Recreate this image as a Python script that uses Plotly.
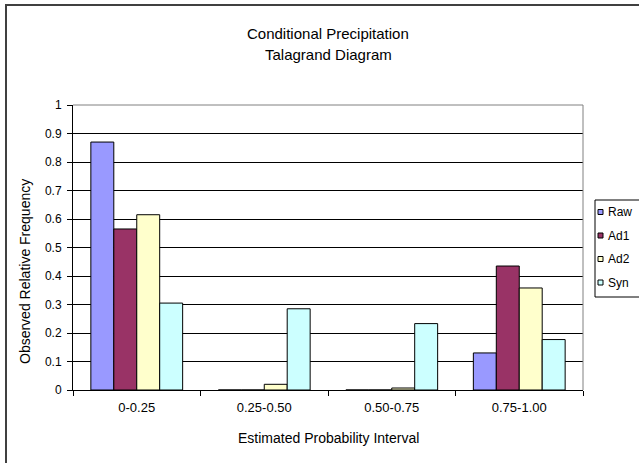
import plotly.graph_objects as go

# Probability intervals (x categories) and observed relative frequencies per ensemble
categories = ["0-0.25", "0.25-0.50", "0.50-0.75", "0.75-1.00"]
series_names = ["Raw", "Ad1", "Ad2", "Syn"]
raw = [0.87, 0.0, 0.0, 0.13]
ad1 = [0.565, 0.0, 0.0, 0.435]
ad2 = [0.615, 0.02, 0.007, 0.358]
syn = [0.305, 0.285, 0.233, 0.177]
series_values = [raw, ad1, ad2, syn]
series_colors = ["#9999FF", "#993366", "#FFFFCC", "#CCFFFF"]

y_ticks = [i / 10 for i in range(11)]
y_tick_labels = ["0", "0.1", "0.2", "0.3", "0.4", "0.5", "0.6", "0.7", "0.8", "0.9", "1"]

FONT = "Liberation Sans"
W, H = 639, 463
ML, MR, MT, MB = 73, 56, 105, 73
PW, PH = W - ML - MR, H - MT - MB


def px_x(p):
    return (p - ML) / PW


def px_y(p):
    return (H - MB - p) / PH


fig = go.Figure()
for name, vals, col in zip(series_names, series_values, series_colors):
    fig.add_trace(go.Bar(
        x=categories, y=vals, name=name,
        marker=dict(color=col, line=dict(color="black", width=1)),
        showlegend=False,
    ))

shapes = []
annotations = []

# outer chart frame
shapes.append(dict(type="rect", xref="paper", yref="paper",
                   x0=px_x(6), x1=px_x(W + 20), y0=px_y(H + 20), y1=px_y(5),
                   line=dict(color="#404040", width=2), fillcolor="rgba(0,0,0,0)", layer="below"))

# plot-area border on top and right
shapes.append(dict(type="line", xref="paper", yref="paper", x0=0, x1=1, y0=1, y1=1,
                   line=dict(color="#808080", width=1)))
shapes.append(dict(type="line", xref="paper", yref="paper", x0=1, x1=1, y0=0, y1=1,
                   line=dict(color="#808080", width=1)))

# legend box with entries
lg_x0, lg_y0, lg_y1 = 595, 200, 297
shapes.append(dict(type="rect", xref="paper", yref="paper",
                   x0=px_x(lg_x0), x1=px_x(W + 10), y0=px_y(lg_y1), y1=px_y(lg_y0),
                   line=dict(color="black", width=1), fillcolor="white"))
for i, (name, col) in enumerate(zip(series_names, series_colors)):
    cy = 212 + i * 23.5
    shapes.append(dict(type="rect", xref="paper", yref="paper",
                       x0=px_x(lg_x0 + 3), x1=px_x(lg_x0 + 8),
                       y0=px_y(cy + 2.5), y1=px_y(cy - 2.5),
                       line=dict(color="black", width=1), fillcolor=col))
    annotations.append(dict(text=name, xref="paper", yref="paper",
                            x=px_x(lg_x0 + 11), y=px_y(cy), xanchor="left", yanchor="middle",
                            showarrow=False, font=dict(family=FONT, size=12, color="black")))

# chart title, two lines
annotations.append(dict(text="Conditional Precipitation", xref="paper", yref="paper",
                        x=px_x(328), y=px_y(33), xanchor="center", yanchor="middle",
                        showarrow=False, font=dict(family=FONT, size=15, color="black")))
annotations.append(dict(text="Talagrand Diagram", xref="paper", yref="paper",
                        x=px_x(328), y=px_y(55), xanchor="center", yanchor="middle",
                        showarrow=False, font=dict(family=FONT, size=15, color="black")))

# axis titles
annotations.append(dict(text="Estimated Probability Interval", xref="paper", yref="paper",
                        x=0.5, y=px_y(438), xanchor="center", yanchor="middle",
                        showarrow=False, font=dict(family=FONT, size=14, color="black")))
annotations.append(dict(text="Observed Relative Frequency", xref="paper", yref="paper",
                        x=px_x(25), y=px_y(272), xanchor="center", yanchor="middle",
                        textangle=-90, showarrow=False,
                        font=dict(family=FONT, size=14, color="black")))

fig.update_layout(
    width=W, height=H,
    margin=dict(l=ML, r=MR, t=MT, b=MB, pad=0),
    paper_bgcolor="white", plot_bgcolor="white",
    barmode="group", bargap=0.28, bargroupgap=0,
    font=dict(family=FONT, size=12, color="black"),
    shapes=shapes, annotations=annotations,
    xaxis=dict(type="category", showgrid=False, showline=True, linecolor="black", linewidth=1,
               ticks="outside", tickson="boundaries", ticklen=5, tickcolor="black",
               ticklabelstandoff=5,
               tickfont=dict(family=FONT, size=13, color="black"), fixedrange=True),
    yaxis=dict(range=[0, 1], tickvals=y_ticks, ticktext=y_tick_labels,
               showgrid=True, gridcolor="black", gridwidth=1,
               showline=True, linecolor="black", linewidth=1,
               ticks="outside", ticklen=5, tickcolor="black",
               ticklabelstandoff=3,
               tickfont=dict(family=FONT, size=12, color="black"),
               zeroline=False, fixedrange=True),
)

fig.write_html("out.html")
